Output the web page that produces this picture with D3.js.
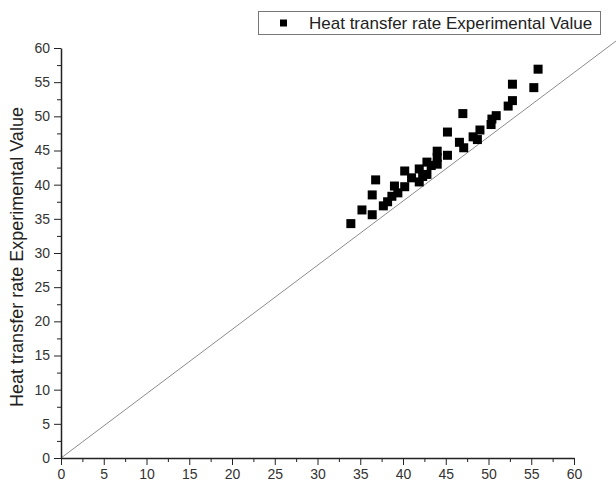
<!DOCTYPE html>
<html>
<head>
<meta charset="utf-8">
<script src="https://cdn.jsdelivr.net/npm/d3@7"></script>
<style>
  body { margin: 0; background: #fff; }
  svg { display: block; font-family: "Liberation Sans", Arial, sans-serif; }
  .axis path, .axis line { stroke: #222; }
  .axis text { fill: #333; font-size: 14px; }
</style>
</head>
<body>
<svg width="616" height="482"></svg>
<script>
// measured values (x = predicted / reference, y = experimental)
var xValues = [33.9, 35.2, 36.4, 36.4, 36.8, 37.7, 38.2, 38.7, 39.0, 39.4,
  40.2, 40.2, 41.0, 41.9, 41.9, 42.3, 42.8, 42.8, 43.3, 44.0,
  44.0, 44.0, 45.2, 45.2, 47.0, 46.6, 47.1, 48.2, 48.7, 49.0,
  50.3, 50.4, 50.9, 52.3, 52.8, 52.8, 55.3, 55.8];
var yValues = [34.3, 36.3, 35.6, 38.5, 40.7, 36.9, 37.5, 38.3, 39.8, 38.8,
  42.0, 39.7, 41.0, 40.4, 42.3, 41.2, 43.3, 41.5, 42.8, 44.9,
  44.0, 43.0, 47.7, 44.3, 50.4, 46.2, 45.4, 47.0, 46.6, 48.0,
  48.8, 49.6, 50.1, 51.5, 52.3, 54.7, 54.2, 56.9];
var majorTicks = [0, 5, 10, 15, 20, 25, 30, 35, 40, 45, 50, 55, 60];
var minorTicks = [2.5, 7.5, 12.5, 17.5, 22.5, 27.5, 32.5, 37.5, 42.5, 47.5, 52.5, 57.5];
var lineSlope = 0.94;
var seriesName = 'Heat transfer rate Experimental Value';
var yTitle = 'Heat transfer rate Experimental Value';

var svg = d3.select('svg');
var width = +svg.attr('width');

var x = d3.scaleLinear().domain([0, 60]).range([61, 574]);
var y = d3.scaleLinear().domain([0, 60]).range([458, 48]);

var points = xValues.map(function (v, i) { return { x: v, y: yValues[i] }; });

// reference line through origin, runs off to the page edge
var xEnd = x.invert(width);
svg.append('line')
  .attr('x1', x(0)).attr('y1', y(0))
  .attr('x2', x(xEnd)).attr('y2', y(xEnd * lineSlope))
  .attr('stroke', '#8c8c8c')
  .attr('stroke-width', 1);

// axes
svg.append('g')
  .attr('class', 'axis')
  .attr('transform', 'translate(0,' + y(0) + ')')
  .call(d3.axisBottom(x).tickValues(minorTicks).tickSize(4).tickFormat(''))
  .call(function (g) { g.select('.domain').remove(); });
svg.append('g')
  .attr('class', 'axis')
  .attr('transform', 'translate(0,' + y(0) + ')')
  .call(d3.axisBottom(x).tickValues(majorTicks).tickSize(7).tickSizeOuter(0).tickPadding(4))
  .call(function (g) { g.select('.domain').attr('stroke-width', 1.5); });

svg.append('g')
  .attr('class', 'axis')
  .attr('transform', 'translate(' + x(0) + ',0)')
  .call(d3.axisLeft(y).tickValues(minorTicks).tickSize(4).tickFormat(''))
  .call(function (g) { g.select('.domain').remove(); });
svg.append('g')
  .attr('class', 'axis')
  .attr('transform', 'translate(' + x(0) + ',0)')
  .call(d3.axisLeft(y).tickValues(majorTicks).tickSize(7).tickSizeOuter(0).tickPadding(4))
  .call(function (g) { g.select('.domain').attr('stroke-width', 1.5); });

svg.append('text')
  .attr('transform', 'translate(23,' + (y(30) + 4) + ') rotate(-90)')
  .attr('text-anchor', 'middle')
  .attr('font-size', 18)
  .attr('fill', '#222')
  .text(yTitle);

// points
var s = 9;
svg.append('g')
  .selectAll('rect')
  .data(points)
  .enter()
  .append('rect')
  .attr('x', function (d) { return x(d.x) - s / 2; })
  .attr('y', function (d) { return y(d.y) - s / 2; })
  .attr('width', s)
  .attr('height', s)
  .attr('fill', '#000');

// legend
var legend = svg.append('g');
legend.append('rect')
  .attr('x', 258.5).attr('y', 11.5)
  .attr('width', 342).attr('height', 23)
  .attr('fill', '#fff')
  .attr('stroke', '#777');
legend.append('rect')
  .attr('x', 280).attr('y', 19.5)
  .attr('width', 7).attr('height', 7)
  .attr('fill', '#000');
legend.append('text')
  .attr('x', 309).attr('y', 29)
  .attr('font-size', 17)
  .attr('fill', '#222')
  .text(seriesName);
</script>
</body>
</html>
